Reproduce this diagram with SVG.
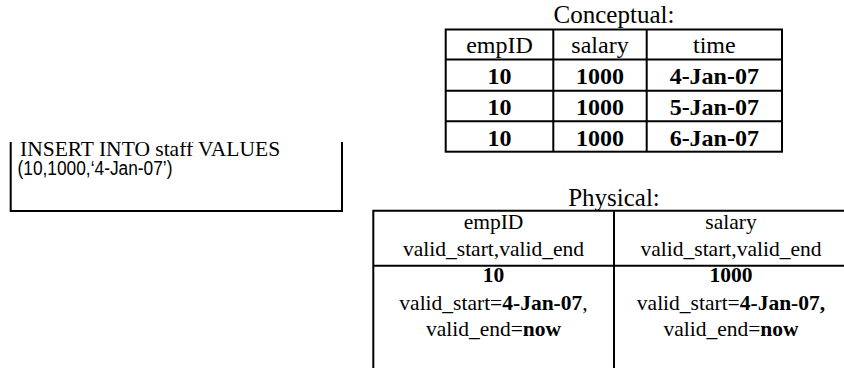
<svg xmlns="http://www.w3.org/2000/svg" width="844" height="368" viewBox="0 0 844 368">
<style>
.serif{font-family:"Liberation Serif","Times New Roman",serif;fill:#000}
.sans{font-family:"Liberation Sans",Arial,sans-serif;fill:#000}
.c{text-anchor:middle}
.t24{font-size:24px}
.t21{font-size:21.5px}
.b{font-weight:bold}
.ln{stroke:#000;stroke-width:2;fill:none}
</style>
<defs>
<clipPath id="boxclip"><rect x="0" y="142" width="360" height="80"/></clipPath>
</defs>
<rect width="844" height="368" fill="#fff"/>

<g id="insert-box">
  <g clip-path="url(#boxclip)">
    <path class="ln" d="M10.7,130 V211 H342 V130"/>
    <text class="serif" x="20" y="155.5" font-size="21.5">INSERT INTO staff VALUES</text>
  </g>
  <text class="sans" x="17.5" y="175" font-size="19.5" textLength="155" lengthAdjust="spacingAndGlyphs">(10,1000,‘4-Jan-07’)</text>
</g>

<g id="conceptual">
  <text class="serif c" x="614" y="23" font-size="25">Conceptual:</text>
  <rect class="ln" x="445.7" y="29.5" width="336.3" height="122.2"/>
  <path class="ln" d="M445.7,59.5 H782 M445.7,90.7 H782 M445.7,121.3 H782 M553.3,29.5 V151.7 M646.7,29.5 V151.7"/>
  <g class="serif t24 c">
    <text x="499.5" y="53.3">empID</text>
    <text x="600" y="53.3">salary</text>
    <text x="714.3" y="53.3">time</text>
  </g>
  <g class="serif t24 c b">
    <text x="499.5" y="84.3">10</text>
    <text x="600" y="84.3">1000</text>
    <text x="714.3" y="84.3">4-Jan-07</text>
    <text x="499.5" y="115">10</text>
    <text x="600" y="115">1000</text>
    <text x="714.3" y="115">5-Jan-07</text>
    <text x="499.5" y="145.7">10</text>
    <text x="600" y="145.7">1000</text>
    <text x="714.3" y="145.7">6-Jan-07</text>
  </g>
</g>

<g id="physical">
  <text class="serif c" x="614" y="205.5" font-size="25">Physical:</text>
  <path class="ln" d="M373.3,370 V210.7 H846 M373.3,265.7 H846 M614,210.7 V370"/>
  <g class="serif t21 c">
    <text x="493.5" y="229">empID</text>
    <text x="493.5" y="256">valid_start,valid_end</text>
    <text x="731" y="229">salary</text>
    <text x="731" y="256">valid_start,valid_end</text>
    <text x="493.5" y="282" class="b">10</text>
    <text x="493.5" y="310">valid_start=<tspan class="b">4-Jan-07</tspan>,</text>
    <text x="493.5" y="336">valid_end=<tspan class="b">now</tspan></text>
    <text x="731" y="282" class="b">1000</text>
    <text x="731" y="310">valid_start=<tspan class="b">4-Jan-07,</tspan></text>
    <text x="731" y="336">valid_end=<tspan class="b">now</tspan></text>
  </g>
</g>

<g id="connectors"/>
</svg>
